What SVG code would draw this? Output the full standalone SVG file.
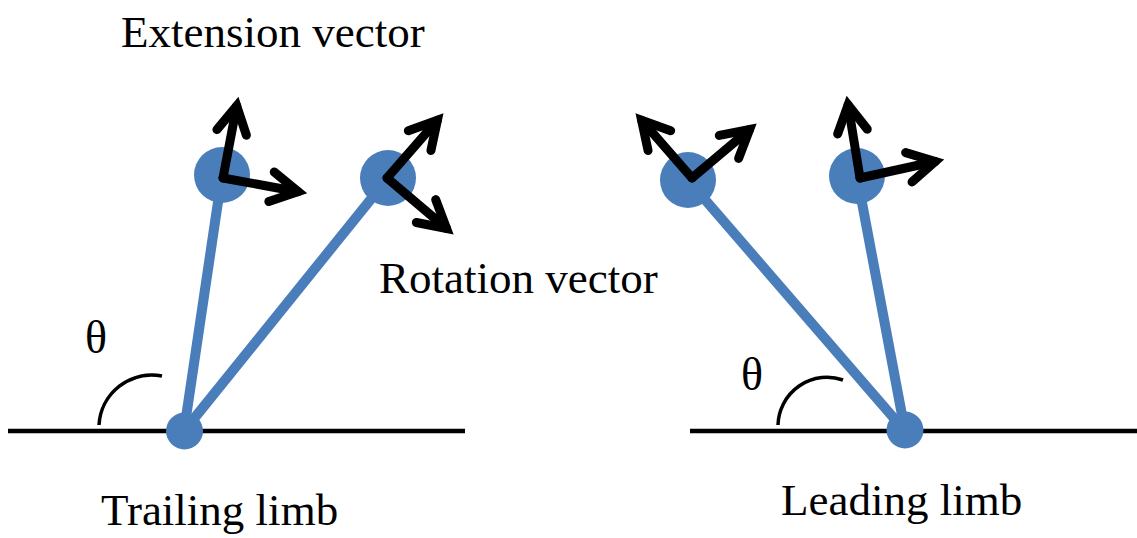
<svg xmlns="http://www.w3.org/2000/svg" width="1137" height="538" viewBox="0 0 1137 538">
  <style>
    .ground { stroke: #000; stroke-width: 4.5; fill: none; }
    .limb { stroke: #4a7ebb; stroke-width: 10; stroke-linecap: round; fill: none; }
    .joint { fill: #4a7ebb; }
    .vec { stroke: #000; stroke-width: 9; stroke-linecap: round; fill: none; marker-end: url(#head); }
    .arc { stroke: #000; stroke-width: 3.5; fill: none; }
    .lbl { font-family: "Liberation Serif", "Times New Roman", serif; font-size: 45px; fill: #000; }
    .theta { font-family: "Liberation Serif", "Times New Roman", serif; font-size: 46px; fill: #000; }
  </style>
  <defs>
    <marker id="head" markerUnits="userSpaceOnUse" markerWidth="60" markerHeight="60" refX="0" refY="0" viewBox="-40 -30 60 60" orient="auto" overflow="visible">
      <path d="M -27 -15 L 0 0 L -27 15" stroke="#000" stroke-width="9" stroke-linecap="round" stroke-linejoin="miter" stroke-miterlimit="4" fill="none"/>
    </marker>
  </defs>
  <rect width="1137" height="538" fill="#fff"/>

  <g id="ground-left"><line class="ground" x1="8" y1="431" x2="465" y2="431"/></g>
  <g id="ground-right"><line class="ground" x1="690" y1="431" x2="1137" y2="431"/></g>

  <g id="connectors">
    <line class="limb" x1="184" y1="431" x2="222" y2="175"/>
    <line class="limb" x1="184" y1="431" x2="388" y2="178"/>
    <line class="limb" x1="905" y1="431" x2="688" y2="180"/>
    <line class="limb" x1="905" y1="431" x2="857" y2="176"/>
  </g>

  <g id="foot-left"><circle class="joint" cx="184.5" cy="431" r="18.5"/></g>
  <g id="foot-right"><circle class="joint" cx="905" cy="430" r="18.5"/></g>
  <g id="joint-1"><circle class="joint" cx="222" cy="175" r="28"/></g>
  <g id="joint-2"><circle class="joint" cx="388" cy="178" r="28"/></g>
  <g id="joint-3"><circle class="joint" cx="688" cy="180" r="28"/></g>
  <g id="joint-4"><circle class="joint" cx="857" cy="176" r="28"/></g>

  <g id="vectors">
    <line class="vec" x1="223" y1="178" x2="236.7" y2="105.9"/>
    <line class="vec" x1="223" y1="178" x2="298.1" y2="191.7"/>
    <line class="vec" x1="387" y1="178" x2="437.4" y2="120.3"/>
    <line class="vec" x1="387" y1="178" x2="446.6" y2="228.5"/>
    <line class="vec" x1="692" y1="178" x2="641.6" y2="120.3"/>
    <line class="vec" x1="692" y1="178" x2="749.6" y2="129.5"/>
    <line class="vec" x1="860" y1="178" x2="848.1" y2="104.9"/>
    <line class="vec" x1="860" y1="178" x2="935.2" y2="161.5"/>
  </g>

  <g id="angle-left">
    <path class="arc" d="M 99 425 A 53 53 0 0 1 162 376"/>
    <text class="theta" x="85" y="353">θ</text>
  </g>
  <g id="angle-right">
    <path class="arc" d="M 778 425 A 49 49 0 0 1 843 380"/>
    <text class="theta" x="741" y="390">θ</text>
  </g>

  <g id="labels">
    <text class="lbl" x="121" y="47">Extension vector</text>
    <text class="lbl" x="379" y="293">Rotation vector</text>
    <text class="lbl" x="101" y="525">Trailing limb</text>
    <text class="lbl" x="781" y="515">Leading limb</text>
  </g>
</svg>
